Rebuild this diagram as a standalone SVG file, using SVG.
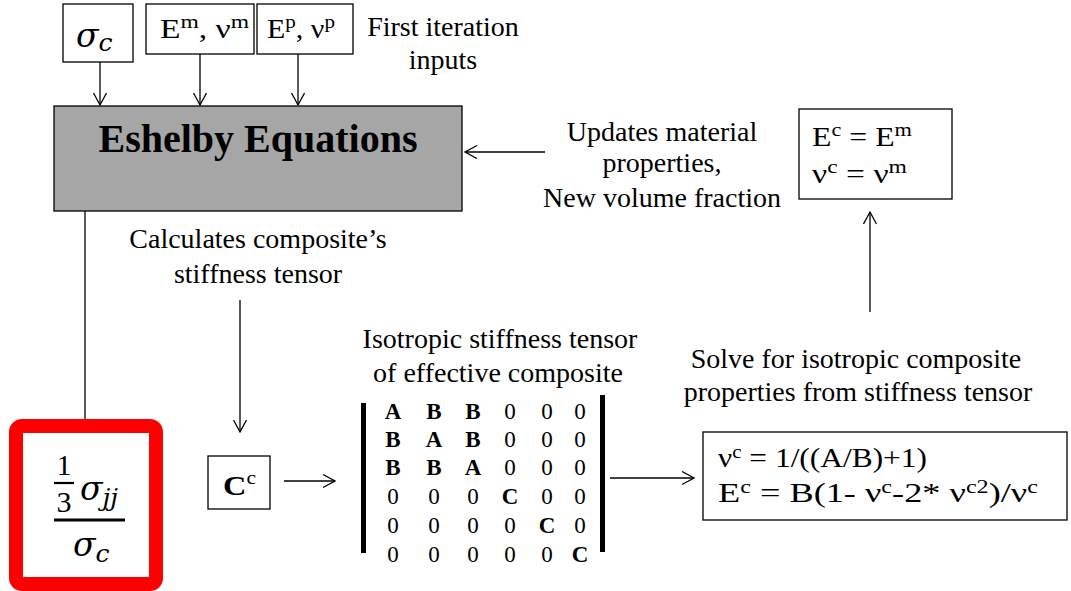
<svg xmlns="http://www.w3.org/2000/svg" width="1071" height="591" viewBox="0 0 1071 591">
<style>
text{font-family:'Liberation Serif','Times New Roman',serif;fill:#000}
.l{font-size:28px;text-anchor:middle}
.b{font-weight:bold}
.box{fill:#fff;stroke:#000;stroke-width:1.3}
.math{font-family:'DejaVu Serif','Liberation Serif',serif;font-style:italic}
.c{stroke:#000;stroke-width:1.3;fill:none}
</style>
<defs>
<marker id="arr" markerWidth="16" markerHeight="16" refX="13" refY="7" orient="auto" markerUnits="userSpaceOnUse">
<path d="M1,0.5 L13,7 L1,13.5" fill="none" stroke="#000" stroke-width="1.3"/>
</marker>
</defs>
<rect width="1071" height="591" fill="#fff"/>

<g id="sigma-c">
<rect class="box" x="63" y="4" width="70" height="58"/>
<text class="math" x="76" y="47" font-size="33">σ<tspan font-size="25" dy="4">c</tspan></text>
</g>
<g id="em">
<rect class="box" x="146" y="4" width="108" height="50"/>
<text x="160" y="38" font-size="27" textLength="89" lengthAdjust="spacingAndGlyphs">E<tspan font-size="19" dy="-10">m</tspan><tspan dy="10">, ν</tspan><tspan font-size="19" dy="-10">m</tspan></text>
</g>
<g id="ep">
<rect class="box" x="257" y="4" width="96" height="50"/>
<text x="267" y="38" font-size="27" textLength="68" lengthAdjust="spacingAndGlyphs">E<tspan font-size="19" dy="-10">p</tspan><tspan dy="10">, ν</tspan><tspan font-size="19" dy="-10">p</tspan></text>
</g>
<g id="first-label">
<text class="l" x="443" y="36">First iteration</text>
<text class="l" x="443" y="69">inputs</text>
</g>
<g id="eshelby">
<rect x="54" y="106" width="408" height="105" fill="#a6a6a6" stroke="#000" stroke-width="1.3"/>
<text class="b" x="258" y="152" font-size="40" text-anchor="middle">Eshelby Equations</text>
</g>
<g id="update-label">
<text class="l" x="662" y="141">Updates material</text>
<text class="l" x="662" y="172">properties,</text>
<text class="l" x="662" y="207">New volume fraction</text>
</g>
<g id="ec-em">
<rect class="box" x="799" y="109" width="153" height="90"/>
<text x="812" y="146" font-size="27" textLength="100" lengthAdjust="spacingAndGlyphs">E<tspan font-size="19" dy="-10">c</tspan><tspan dy="10"> = E</tspan><tspan font-size="19" dy="-10">m</tspan></text>
<text x="812" y="183" font-size="27" textLength="95" lengthAdjust="spacingAndGlyphs">ν<tspan font-size="19" dy="-10">c</tspan><tspan dy="10"> = ν</tspan><tspan font-size="19" dy="-10">m</tspan></text>
</g>
<g id="calc-label">
<text class="l" x="258" y="248">Calculates composite’s</text>
<text class="l" x="258" y="283">stiffness tensor</text>
</g>
<g id="stress-ratio">
<rect x="16" y="426" width="140" height="158" rx="6" fill="#fff" stroke="#ff0000" stroke-width="14"/>
<text x="64" y="475" font-size="30" text-anchor="middle">1</text>
<line x1="54" y1="483" x2="74" y2="483" stroke="#000" stroke-width="2.2"/>
<text x="64" y="512" font-size="30" text-anchor="middle">3</text>
<text class="math" x="80" y="500" font-size="33">σ<tspan font-size="25" dy="6">jj</tspan></text>
<line x1="54" y1="520" x2="125" y2="520" stroke="#000" stroke-width="3"/>
<text class="math" x="73" y="556" font-size="33">σ<tspan font-size="25" dy="6">c</tspan></text>
</g>
<g id="cc">
<rect class="box" x="208" y="456" width="62" height="53"/>
<text class="b" x="223" y="495" font-size="27" textLength="33" lengthAdjust="spacingAndGlyphs">C<tspan font-size="18" font-weight="normal" dy="-11">c</tspan></text>
</g>
<g id="iso-label">
<text class="l" x="500" y="348">Isotropic stiffness tensor</text>
<text class="l" x="498" y="382">of effective composite</text>
</g>
<g id="matrix" font-size="23" text-anchor="middle">
<rect x="361" y="403" width="5" height="150" fill="#000"/>
<rect x="600" y="395" width="5" height="157" fill="#000"/>
<text x="393" y="419" class="b">A</text><text x="434" y="419" class="b">B</text><text x="473" y="419" class="b">B</text><text x="510" y="419">0</text><text x="547" y="419">0</text><text x="580" y="419">0</text>
<text x="393" y="447" class="b">B</text><text x="434" y="447" class="b">A</text><text x="473" y="447" class="b">B</text><text x="510" y="447">0</text><text x="547" y="447">0</text><text x="580" y="447">0</text>
<text x="393" y="475" class="b">B</text><text x="434" y="475" class="b">B</text><text x="473" y="475" class="b">A</text><text x="510" y="475">0</text><text x="547" y="475">0</text><text x="580" y="475">0</text>
<text x="393" y="504">0</text><text x="434" y="504">0</text><text x="473" y="504">0</text><text x="510" y="504" class="b">C</text><text x="547" y="504">0</text><text x="580" y="504">0</text>
<text x="393" y="533">0</text><text x="434" y="533">0</text><text x="473" y="533">0</text><text x="510" y="533">0</text><text x="547" y="533" class="b">C</text><text x="580" y="533">0</text>
<text x="393" y="562">0</text><text x="434" y="562">0</text><text x="473" y="562">0</text><text x="510" y="562">0</text><text x="547" y="562">0</text><text x="580" y="562" class="b">C</text>
</g>
<g id="solve-label">
<text class="l" x="856" y="368">Solve for isotropic composite</text>
<text class="l" x="858" y="401">properties from stiffness tensor</text>
</g>
<g id="result">
<rect class="box" x="703" y="432" width="364" height="88"/>
<text x="718" y="467" font-size="27" textLength="209" lengthAdjust="spacingAndGlyphs">ν<tspan font-size="18" dy="-9">c</tspan><tspan dy="9"> = 1/((A/B)+1)</tspan></text>
<text x="718" y="502" font-size="27" textLength="320" lengthAdjust="spacingAndGlyphs">E<tspan font-size="18" dy="-9">c</tspan><tspan dy="9"> = B(1- ν</tspan><tspan font-size="18" dy="-9">c</tspan><tspan dy="9">-2* ν</tspan><tspan font-size="18" dy="-9">c2</tspan><tspan dy="9">)/ν</tspan><tspan font-size="18" dy="-9">c</tspan></text>
</g>

<g id="connectors">
<line class="c" x1="100" y1="62" x2="100" y2="105" marker-end="url(#arr)"/>
<line class="c" x1="200" y1="54" x2="200" y2="105" marker-end="url(#arr)"/>
<line class="c" x1="298" y1="54" x2="298" y2="105" marker-end="url(#arr)"/>
<line class="c" x1="545" y1="152" x2="465" y2="152" marker-end="url(#arr)"/>
<line class="c" x1="870" y1="312" x2="870" y2="212" marker-end="url(#arr)"/>
<line class="c" x1="85" y1="211" x2="85" y2="419"/>
<line class="c" x1="240" y1="300" x2="240" y2="432" marker-end="url(#arr)"/>
<line class="c" x1="284" y1="481" x2="335" y2="481" marker-end="url(#arr)"/>
<line class="c" x1="610" y1="478" x2="694" y2="478" marker-end="url(#arr)"/>
</g>
</svg>
